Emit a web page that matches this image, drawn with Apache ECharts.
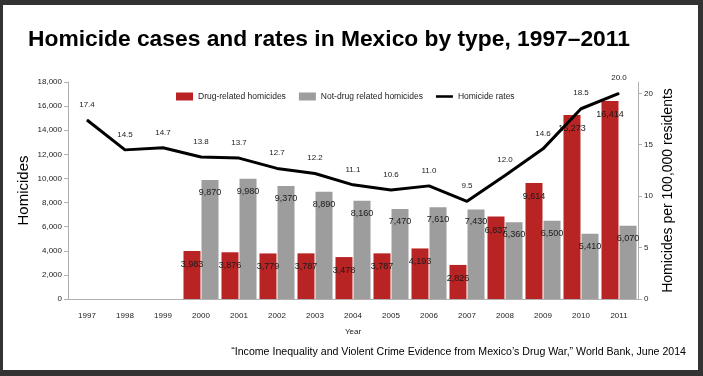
<!DOCTYPE html>
<html>
<head>
<meta charset="utf-8">
<script src="https://cdn.jsdelivr.net/npm/echarts@6/dist/echarts.min.js"></script>
<style>
  html, body { margin: 0; padding: 0; background: #333; }
  #frame {
    width: 703px; height: 376px; box-sizing: border-box;
    border-style: solid; border-color: #333;
    border-width: 5px 5px 6px 3px;
    background: #fff;
  }
  #chart { width: 695px; height: 365px; }
</style>
</head>
<body>
<div id="frame"><div id="chart"></div></div>
<script>
// values
var years = ['1997', '1998', '1999', '2000', '2001', '2002', '2003', '2004',
             '2005', '2006', '2007', '2008', '2009', '2010', '2011'];
var drugRelated = [null, null, null, 3983, 3876, 3779, 3787, 3478,
                   3787, 4193, 2826, 6837, 9614, 15273, 16414];
var notDrugRelated = [null, null, null, 9870, 9980, 9370, 8890, 8160,
                      7470, 7610, 7430, 6360, 6500, 5410, 6070];
var homicideRates = [17.4, 14.5, 14.7, 13.8, 13.7, 12.7, 12.2, 11.1,
                     10.6, 11.0, 9.5, 12.0, 14.6, 18.5, 20.0];

var narrow = '"Liberation Sans Narrow", "Arial Narrow", "Liberation Sans", sans-serif';
var plain = '"Liberation Sans", Arial, sans-serif';
var axisGray = '#b0b0b0';

function thousands(v) {
    return v.toLocaleString('en-US');
}

var chart = echarts.init(document.getElementById('chart'));
chart.setOption({
    animation: false,
    backgroundColor: '#fff',
    title: {
        text: 'Homicide cases and rates in Mexico by type, 1997\u20132011',
        left: 25,
        top: 23,
        padding: 0,
        textStyle: {
            fontFamily: plain,
            fontWeight: 'bold',
            fontSize: 22.8,
            color: '#000'
        }
    },
    legend: {
        left: 173,
        top: 87,
        padding: 0,
        itemWidth: 17,
        itemHeight: 8,
        itemGap: 13,
        textStyle: { fontFamily: narrow, fontSize: 8.5, color: '#222' },
        data: [
            { name: 'Drug-related homicides', icon: 'rect' },
            { name: 'Not-drug related homicides', icon: 'rect' },
            { name: 'Homicide rates', icon: 'path://M0 0H20V3H0Z' }
        ]
    },
    grid: { left: 65, right: 60, top: 77, bottom: 71 },
    xAxis: {
        type: 'category',
        data: years,
        name: 'Year',
        nameLocation: 'middle',
        nameGap: 29,
        nameMoveOverlap: false,
        nameTextStyle: { fontFamily: narrow, fontSize: 8, color: '#222' },
        axisLine: { lineStyle: { color: axisGray } },
        axisTick: { lineStyle: { color: axisGray }, length: 5 },
        axisLabel: { fontFamily: narrow, fontSize: 8, color: '#222', margin: 13 }
    },
    yAxis: [
        {
            type: 'value',
            min: 0,
            max: 18000,
            interval: 2000,
            name: 'Homicides',
            nameLocation: 'middle',
            nameGap: 37,
            nameMoveOverlap: false,
            nameTextStyle: { fontFamily: plain, fontSize: 15, color: '#000' },
            axisLine: { show: true, lineStyle: { color: axisGray } },
            axisTick: { show: true, lineStyle: { color: axisGray }, length: 4 },
            splitLine: { show: false },
            axisLabel: {
                fontFamily: narrow, fontSize: 8, color: '#222', margin: 6,
                formatter: function (v) { return thousands(v); }
            }
        },
        {
            type: 'value',
            min: 0,
            max: 21.1,
            interval: 5,
            name: 'Homicides per 100,000 residents',
            nameLocation: 'middle',
            nameGap: 23,
            nameMoveOverlap: false,
            nameTextStyle: { fontFamily: plain, fontSize: 14, color: '#000' },
            axisLine: { show: true, lineStyle: { color: axisGray } },
            axisTick: { show: true, lineStyle: { color: axisGray }, length: 4 },
            splitLine: { show: false },
            axisLabel: {
                fontFamily: narrow, fontSize: 8, color: '#222', margin: 6,
                showMaxLabel: false
            }
        }
    ],
    series: [
        {
            name: 'Drug-related homicides',
            type: 'bar',
            data: drugRelated,
            barWidth: 17,
            barGap: '6%',
            itemStyle: { color: '#b82424' },
            label: {
                show: true,
                position: 'insideTop',
                distance: 9,
                fontFamily: narrow,
                fontSize: 9,
                color: '#1a1a1a',
                formatter: function (p) { return thousands(p.value); }
            }
        },
        {
            name: 'Not-drug related homicides',
            type: 'bar',
            data: notDrugRelated,
            barWidth: 17,
            itemStyle: { color: '#9d9d9d' },
            label: {
                show: true,
                position: 'insideTop',
                distance: 8,
                fontFamily: narrow,
                fontSize: 9,
                color: '#1a1a1a',
                formatter: function (p) { return thousands(p.value); }
            }
        },
        {
            name: 'Homicide rates',
            type: 'line',
            yAxisIndex: 1,
            data: homicideRates,
            symbol: 'circle',
            symbolSize: 1,
            showAllSymbol: true,
            lineStyle: { color: '#000', width: 3 },
            itemStyle: { color: '#000' },
            z: 5,
            label: {
                show: true,
                position: 'top',
                distance: 11,
                fontFamily: narrow,
                fontSize: 8,
                color: '#222',
                formatter: function (p) { return p.value.toFixed(1); }
            }
        }
    ],
    graphic: [
        {
            type: 'text',
            right: 12,
            top: 342,
            style: {
                text: '\u201cIncome Inequality and Violent Crime Evidence from Mexico\u2019s Drug War,\u201d World Bank, June 2014',
                font: '10.6px "Liberation Sans", Arial, sans-serif',
                fill: '#000'
            }
        }
    ]
});
</script>
</body>
</html>
